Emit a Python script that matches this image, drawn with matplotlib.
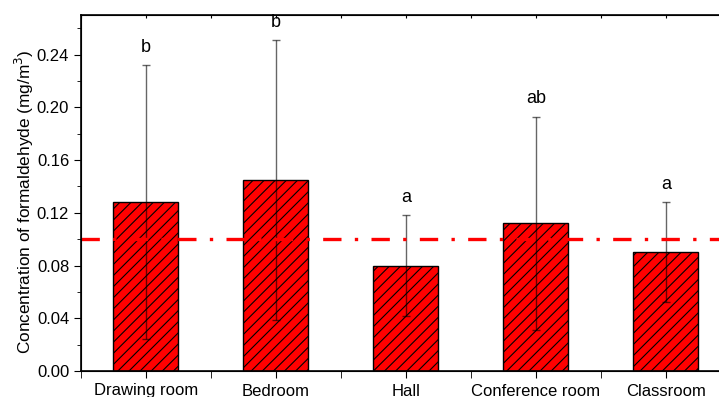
import matplotlib
matplotlib.use('Agg')
import matplotlib.pyplot as plt
import numpy as np
from matplotlib.ticker import MultipleLocator, FixedLocator

plt.rcParams['font.family'] = ['Liberation Sans', 'DejaVu Sans']
plt.rcParams['hatch.color'] = 'black'
plt.rcParams['hatch.linewidth'] = 0.8

# Formaldehyde concentration by room type (mg/m3)
rooms = ['Drawing room', 'Bedroom', 'Hall', 'Conference room', 'Classroom']
means = [0.128, 0.145, 0.080, 0.112, 0.090]
errors = [0.104, 0.106, 0.038, 0.081, 0.038]
letters = ['b', 'b', 'a', 'ab', 'a']
standard = 0.10

fig = plt.figure(figsize=(7.19, 3.97), dpi=100)
ax = fig.add_axes([81 / 719, 26 / 397, 650 / 719, 356 / 397])

x = np.arange(1, len(rooms) + 1)
ax.bar(x, means, width=0.5, color='#ff0000', edgecolor='black',
       linewidth=1.0, hatch='///', zorder=2)
ax.errorbar(x, means, yerr=errors, fmt='none', ecolor='black', alpha=0.6,
            elinewidth=1.0, capsize=3, capthick=1.0, zorder=3)

for xi, m, e, lab in zip(x, means, errors, letters):
    ax.text(xi, m + e + 0.007, lab, ha='center', va='bottom', fontsize=13)

# guideline value
ax.axhline(standard, color='red', linewidth=2.4,
           linestyle=(0, (5.5, 4, 1, 4)), zorder=4)

ax.set_xlim(0.5, 5.5)
ax.set_ylim(0, 0.27)
ax.set_xticks(x)
ax.set_xticklabels(rooms, fontsize=12)
ax.xaxis.set_minor_locator(FixedLocator(np.arange(0.5, 6, 1.0)))
ax.yaxis.set_major_locator(MultipleLocator(0.04))
ax.yaxis.set_minor_locator(MultipleLocator(0.02))
ax.yaxis.set_major_formatter(plt.FuncFormatter(lambda v, p: f'{v:.2f}'))
ax.tick_params(axis='y', which='major', direction='out', length=5, labelsize=12)
ax.tick_params(axis='y', which='minor', direction='out', length=3)
ax.tick_params(axis='x', which='both', direction='out', length=5, pad=4)
for sp in ax.spines.values():
    sp.set_linewidth(1.2)

# small inward ticks along the top edge
top = ax.twiny()
top.set_xlim(ax.get_xlim())
top.set_xticks(np.arange(0.5, 6, 0.5))
top.tick_params(axis='x', direction='in', length=2, width=0.8, labeltop=False)

ax.set_ylabel('Concentration of formaldehyde (mg/m$^3$)', fontsize=12.4)
ax.yaxis.set_label_coords(-0.069, 0.475)

fig.savefig('out.png', dpi=100)
